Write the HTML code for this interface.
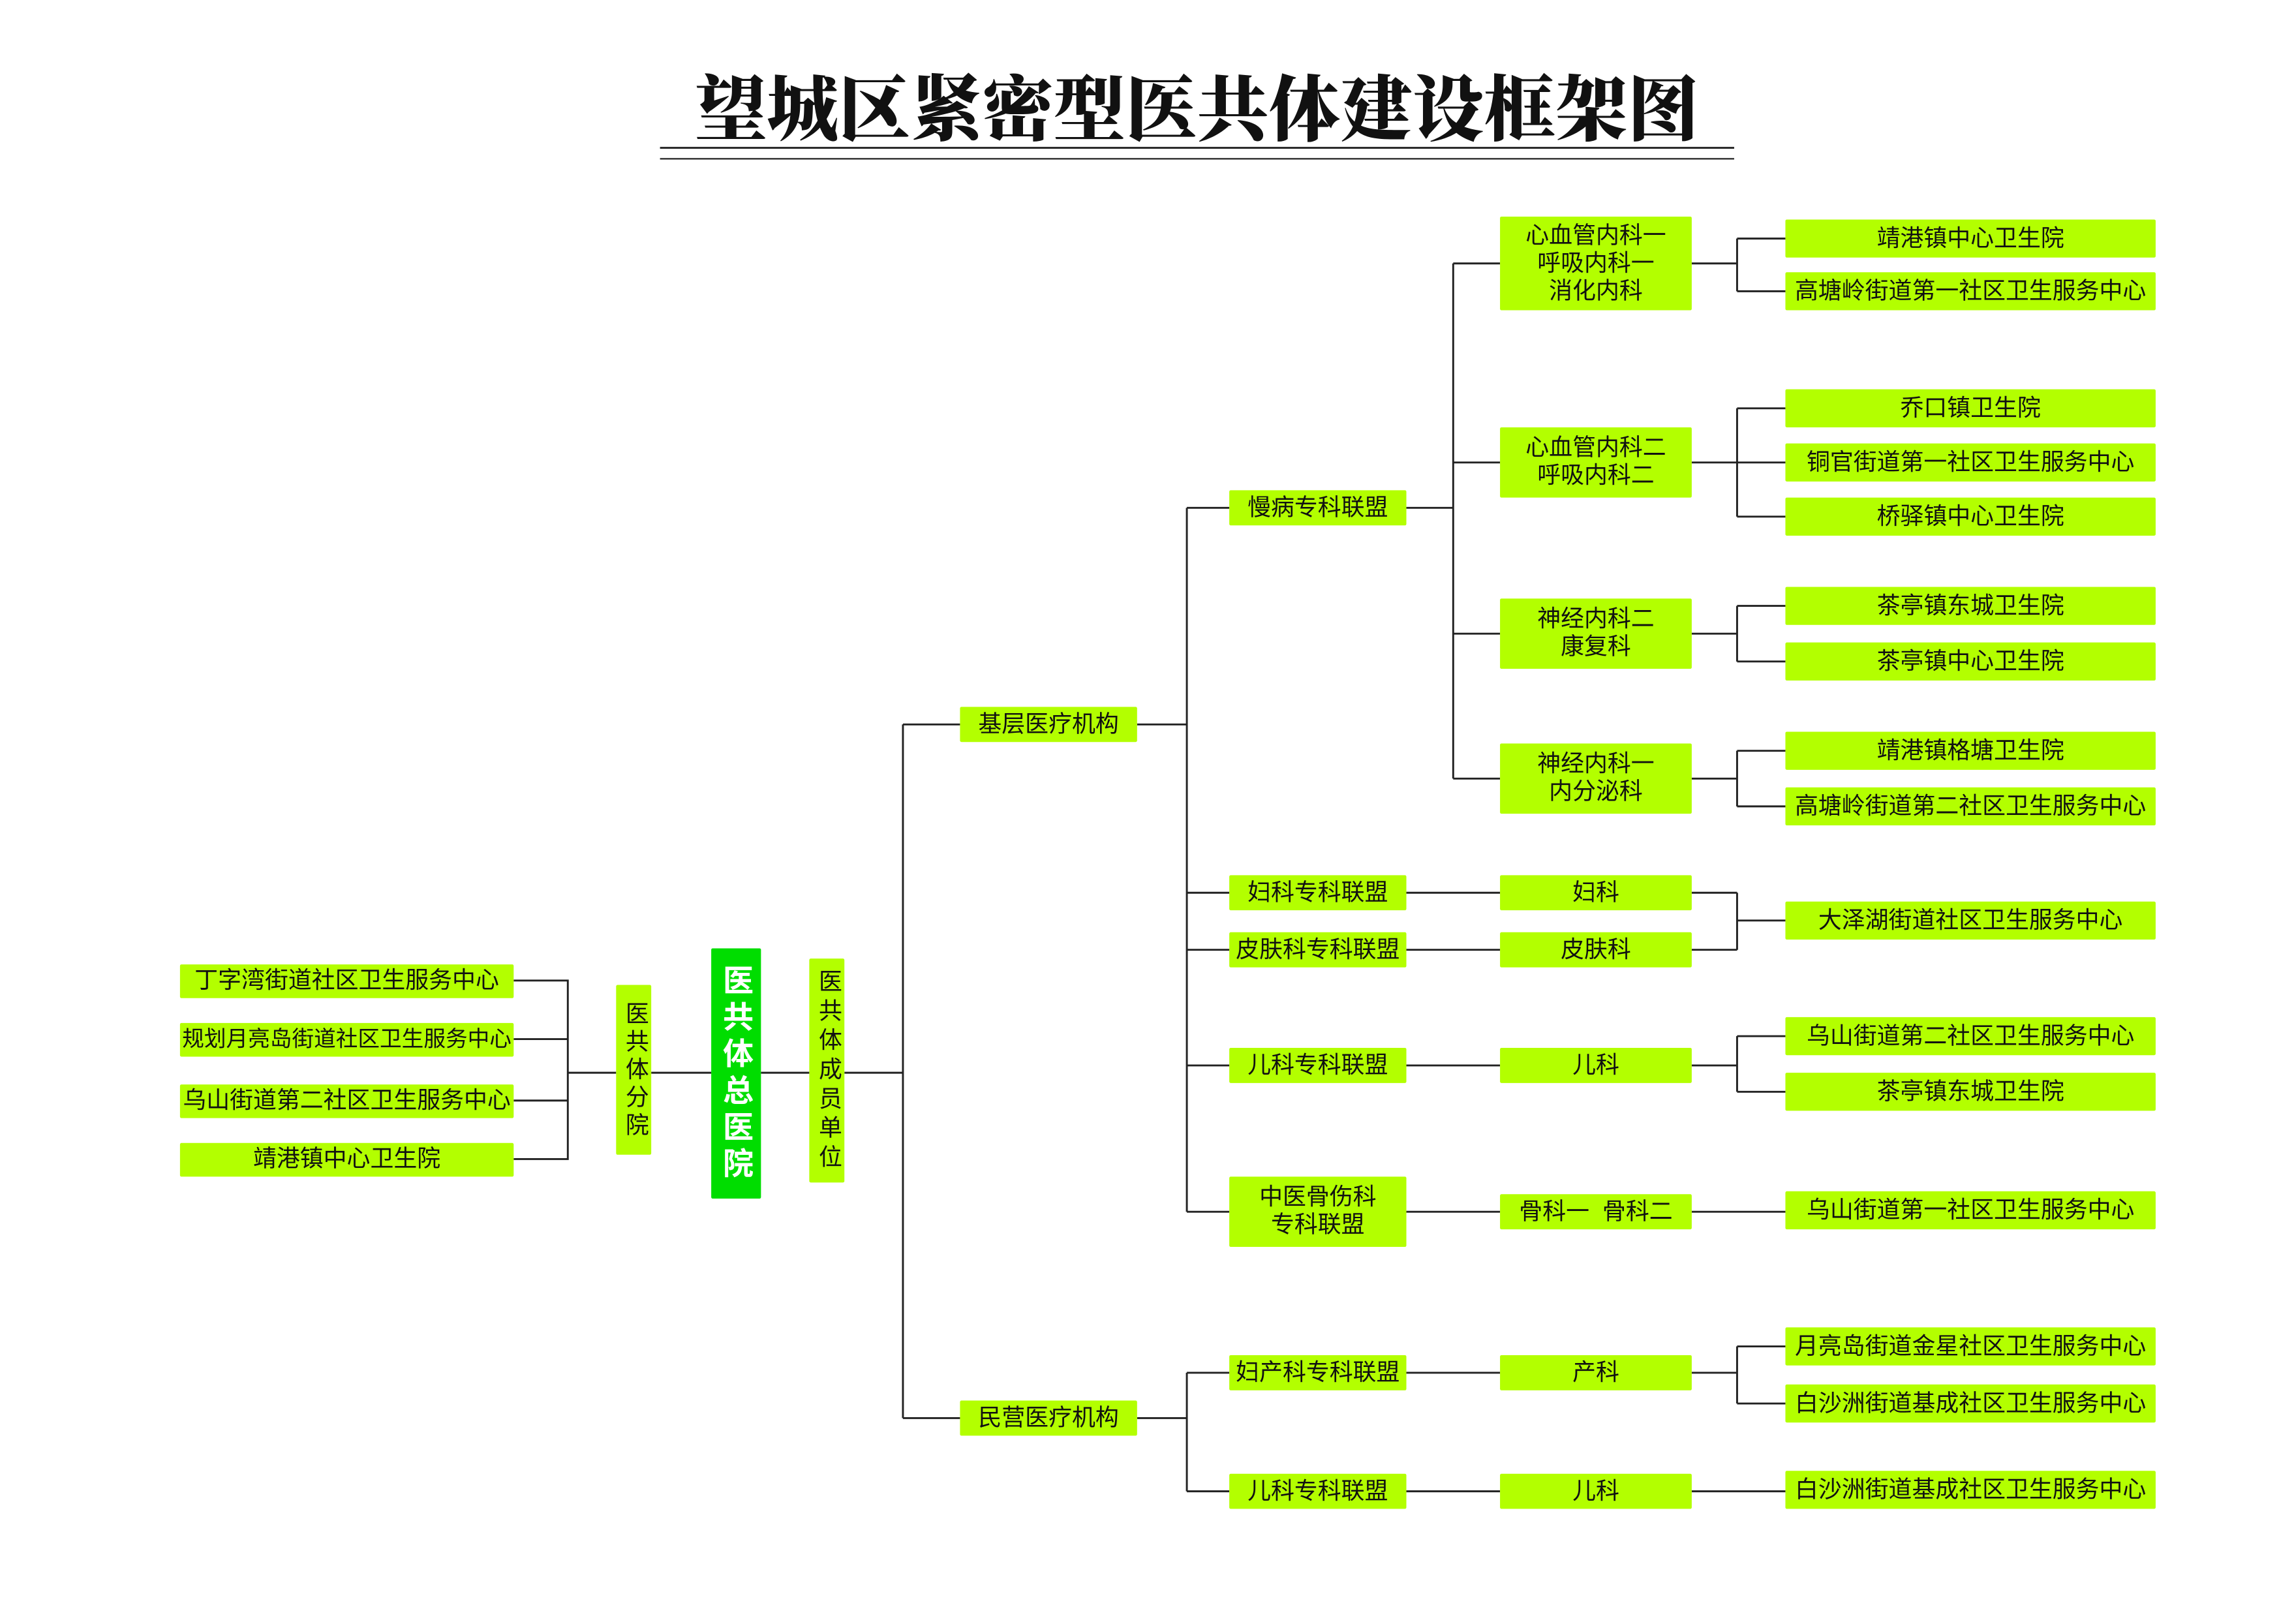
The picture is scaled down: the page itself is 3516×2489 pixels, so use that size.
<!DOCTYPE html>
<html><head><meta charset="utf-8">
<style>
html,body{margin:0;padding:0;background:#fff;}
body{width:3516px;height:2489px;overflow:hidden;position:relative;}
#w{position:absolute;left:0;top:0;width:1555px;height:1101px;transform:scale(2.243);transform-origin:0 0;}
.b{position:absolute;background:#b3ff00;color:#111;font-family:"Liberation Sans","Noto Sans CJK SC",sans-serif;font-size:16px;display:flex;align-items:center;justify-content:center;text-align:center;line-height:19px;border-radius:1px;white-space:nowrap;}
.v{writing-mode:vertical-rl;text-orientation:upright;letter-spacing:3px;}
.t{position:absolute;left:451px;width:734px;top:40px;text-align:center;font-family:"Noto Serif CJK SC","Liberation Serif",serif;font-weight:900;font-size:49px;line-height:64px;color:#111;}
svg{position:absolute;left:0;top:0;}
</style></head><body><div id="w">
<div class="t">望城区紧密型医共体建设框架图</div>
<svg width="1555" height="1101" fill="none" stroke="#222" stroke-width="1.3">
<line x1="451" y1="101" x2="1185" y2="101"/><line x1="451" y1="108.5" x2="1185" y2="108.5" stroke-width="1"/>
<path d="M351 670H388V792H351M351 710H388M351 752H388M388 733H421M445 733H486M520 733H553M577 733H617"/>
<path d="M617 495V969M617 495H656M617 969H656"/>
<path d="M777 495H811M811 347V828M811 347H840M811 610H840M811 649H840M811 728H840M811 828H840"/>
<path d="M777 969H811M811 938V1019M811 938H840M811 1019H840"/>
<path d="M961 347H993M993 180V532M993 180H1025M993 316H1025M993 433H1025M993 532H1025"/>
<path d="M961 610H1025M961 649H1025M961 728H1025M961 828H1025M961 938H1025M961 1019H1025"/>
<path d="M1156 180H1187M1187 163V199M1187 163H1220M1187 199H1220"/>
<path d="M1156 316H1220M1187 279V353M1187 279H1220M1187 353H1220"/>
<path d="M1156 433H1187M1187 414V452M1187 414H1220M1187 452H1220"/>
<path d="M1156 532H1187M1187 513V551M1187 513H1220M1187 551H1220"/>
<path d="M1156 610H1187M1156 649H1187M1187 610V649M1187 629H1220"/>
<path d="M1156 728H1187M1187 708V746M1187 708H1220M1187 746H1220"/>
<path d="M1156 828H1220"/>
<path d="M1156 938H1187M1187 920V959M1187 920H1220M1187 959H1220"/>
<path d="M1156 1019H1220"/>
</svg>
<div class="b" style="left:123px;top:659px;width:228px;height:23px">丁字湾街道社区卫生服务中心</div>
<div class="b" style="left:123px;top:699px;width:228px;height:23px;font-size:15px">规划月亮岛街道社区卫生服务中心</div>
<div class="b" style="left:123px;top:741px;width:228px;height:23px">乌山街道第二社区卫生服务中心</div>
<div class="b" style="left:123px;top:781px;width:228px;height:23px">靖港镇中心卫生院</div>
<div class="b v" style="left:421px;top:673px;width:24px;height:116px">医共体分院</div>
<div class="b v" style="left:486px;top:648px;width:34px;height:171px;background:#00dd00;color:#fff;font-weight:bold;font-size:21px;letter-spacing:4px">医共体总医院</div>
<div class="b v" style="left:553px;top:655px;width:24px;height:153px;letter-spacing:4px">医共体成员单位</div>
<div class="b" style="left:656px;top:483px;width:121px;height:24px">基层医疗机构</div>
<div class="b" style="left:656px;top:957px;width:121px;height:24px">民营医疗机构</div>
<div class="b" style="left:840px;top:335px;width:121px;height:24px">慢病专科联盟</div>
<div class="b" style="left:840px;top:598px;width:121px;height:24px">妇科专科联盟</div>
<div class="b" style="left:840px;top:637px;width:121px;height:24px">皮肤科专科联盟</div>
<div class="b" style="left:840px;top:716px;width:121px;height:24px">儿科专科联盟</div>
<div class="b" style="left:840px;top:804px;width:121px;height:48px">中医骨伤科<br>专科联盟</div>
<div class="b" style="left:840px;top:926px;width:121px;height:24px">妇产科专科联盟</div>
<div class="b" style="left:840px;top:1007px;width:121px;height:24px">儿科专科联盟</div>
<div class="b" style="left:1025px;top:148px;width:131px;height:64px">心血管内科一<br>呼吸内科一<br>消化内科</div>
<div class="b" style="left:1025px;top:292px;width:131px;height:48px">心血管内科二<br>呼吸内科二</div>
<div class="b" style="left:1025px;top:409px;width:131px;height:48px">神经内科二<br>康复科</div>
<div class="b" style="left:1025px;top:508px;width:131px;height:48px">神经内科一<br>内分泌科</div>
<div class="b" style="left:1025px;top:598px;width:131px;height:24px">妇科</div>
<div class="b" style="left:1025px;top:637px;width:131px;height:24px">皮肤科</div>
<div class="b" style="left:1025px;top:716px;width:131px;height:24px">儿科</div>
<div class="b" style="left:1025px;top:816px;width:131px;height:24px">骨科一&nbsp;&nbsp;骨科二</div>
<div class="b" style="left:1025px;top:926px;width:131px;height:24px">产科</div>
<div class="b" style="left:1025px;top:1007px;width:131px;height:24px">儿科</div>
<div class="b" style="left:1220px;top:150px;width:253px;height:26px">靖港镇中心卫生院</div>
<div class="b" style="left:1220px;top:186px;width:253px;height:26px">高塘岭街道第一社区卫生服务中心</div>
<div class="b" style="left:1220px;top:266px;width:253px;height:26px">乔口镇卫生院</div>
<div class="b" style="left:1220px;top:303px;width:253px;height:26px">铜官街道第一社区卫生服务中心</div>
<div class="b" style="left:1220px;top:340px;width:253px;height:26px">桥驿镇中心卫生院</div>
<div class="b" style="left:1220px;top:401px;width:253px;height:26px">茶亭镇东城卫生院</div>
<div class="b" style="left:1220px;top:439px;width:253px;height:26px">茶亭镇中心卫生院</div>
<div class="b" style="left:1220px;top:500px;width:253px;height:26px">靖港镇格塘卫生院</div>
<div class="b" style="left:1220px;top:538px;width:253px;height:26px">高塘岭街道第二社区卫生服务中心</div>
<div class="b" style="left:1220px;top:616px;width:253px;height:26px">大泽湖街道社区卫生服务中心</div>
<div class="b" style="left:1220px;top:695px;width:253px;height:26px">乌山街道第二社区卫生服务中心</div>
<div class="b" style="left:1220px;top:733px;width:253px;height:26px">茶亭镇东城卫生院</div>
<div class="b" style="left:1220px;top:814px;width:253px;height:26px">乌山街道第一社区卫生服务中心</div>
<div class="b" style="left:1220px;top:907px;width:253px;height:26px">月亮岛街道金星社区卫生服务中心</div>
<div class="b" style="left:1220px;top:946px;width:253px;height:26px">白沙洲街道基成社区卫生服务中心</div>
<div class="b" style="left:1220px;top:1005px;width:253px;height:26px">白沙洲街道基成社区卫生服务中心</div>
</div></body></html>
